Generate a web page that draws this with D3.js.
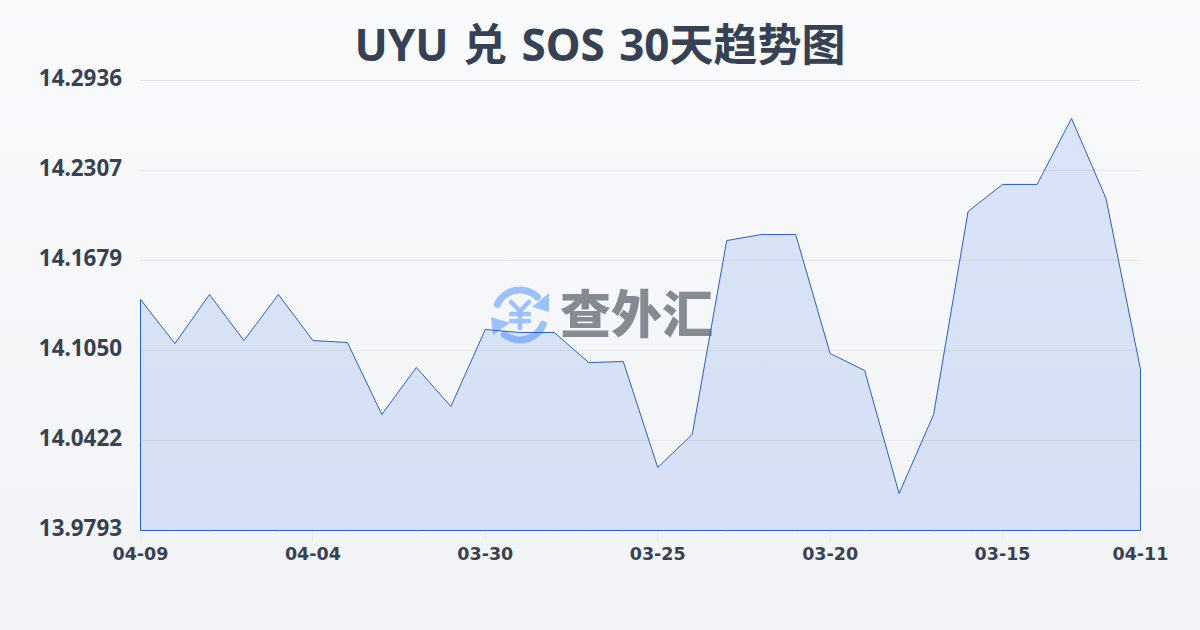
<!DOCTYPE html>
<html><head><meta charset="utf-8">
<script src="https://cdn.jsdelivr.net/npm/d3@7/dist/d3.min.js"></script>
<style>html,body{margin:0;padding:0;background:#f8fafc}svg{display:block}</style>
</head><body><svg id="c" width="1200" height="630"></svg>
<script>
const titleText = "UYU 兑 SOS 30天趋势图";
const values = [14.1406,14.1099,14.1441,14.1120,14.1441,14.1120,14.1106,14.0603,14.0932,14.0659,14.1197,14.1176,14.1176,14.0966,14.0973,14.0233,14.0464,14.1818,14.1860,14.1860,14.1029,14.0911,14.0051,14.0603,14.2021,14.2210,14.2210,14.2671,14.2112,14.0918];
const yTicks = [13.9793,14.0422,14.1050,14.1679,14.2307,14.2936];
const xTickIndex = [0,5,10,15,20,25,29];
const xTickLabels = ["04-09","04-04","03-30","03-25","03-20","03-15","04-11"];
const font = "'Noto Sans','Noto Sans CJK SC',sans-serif";
const xFont = "'DejaVu Sans',sans-serif";

const svg = d3.select("#c");
const defs = svg.append("defs");
const bg = defs.append("linearGradient").attr("id","bg").attr("x1",0).attr("y1",0).attr("x2",0).attr("y2",1);
bg.append("stop").attr("offset",0).attr("stop-color","#f8fafc");
bg.append("stop").attr("offset",1).attr("stop-color","#f1f3f6");
const fg = defs.append("linearGradient").attr("id","fg").attr("x1",0).attr("y1",0).attr("x2",0).attr("y2",1);
fg.append("stop").attr("offset",0).attr("stop-color","#2a60e0").attr("stop-opacity",0.14);
fg.append("stop").attr("offset",1).attr("stop-color","#2a60e0").attr("stop-opacity",0.14);

svg.append("rect").attr("width",1200).attr("height",630).attr("fill","url(#bg)");

const x = d3.scaleLinear().domain([0,values.length-1]).range([140.5,1140.5]);
const y = d3.scaleLinear().domain([yTicks[0],yTicks[yTicks.length-1]]).range([530.5,80.5]);

// grid
svg.append("g").selectAll("line").data(yTicks.slice(1)).join("line")
  .attr("x1",140).attr("x2",1140).attr("y1",d=>Math.floor(y(d))+0.5).attr("y2",d=>Math.floor(y(d))+0.5)
  .attr("stroke","#e5e7eb").attr("stroke-width",1);
// x tick marks
svg.append("g").selectAll("line").data(xTickIndex).join("line")
  .attr("x1",d=>Math.floor(x(d))+0.5).attr("x2",d=>Math.floor(x(d))+0.5).attr("y1",530).attr("y2",541)
  .attr("stroke","#e5e7eb").attr("stroke-width",1);

// watermark
const wm = svg.append("g");
const cx=520, cy=315, r=25;
const arc = d3.arc().innerRadius(r-3.5).outerRadius(r+3.5).cornerRadius(3);
const logo = "#9dc1fb";
wm.append("path").attr("transform",`translate(${cx},${cy})`).attr("fill",logo)
  .attr("d",arc({startAngle:-1.27,endAngle:0.9}));
wm.append("path").attr("transform",`translate(${cx},${cy})`).attr("fill",logo)
  .attr("d",arc({startAngle:1.82,endAngle:3.95}));
wm.append("path").attr("fill",logo).attr("d",d3.line()([[549,293],[549,312],[532,307]])+"Z");
wm.append("path").attr("fill",logo).attr("d",d3.line()([[491,317],[510,323],[493,335]])+"Z");
const yen = [[[511,302],[520,311],[529,302]],[[511,314],[529,314]],[[511,321],[529,321]],[[520,311],[520,328]]];
wm.append("g").selectAll("path").data(yen).join("path").attr("d",d=>d3.line()(d))
  .attr("fill","none").attr("stroke",logo).attr("stroke-width",4.5).attr("stroke-linecap","round");
wm.append("text").attr("x",560).attr("y",333).attr("font-family","'Noto Sans CJK SC'")
  .attr("font-weight",900).attr("font-size",51).attr("fill","#868a92").text("查外汇");

// area
const pts = values.map((v,i)=>[i,v]);
const area = d3.area().x(d=>x(d[0])).y0(y(yTicks[0])).y1(d=>y(d[1]));
svg.append("path").attr("d",area(pts)).attr("fill","url(#fg)").attr("stroke","#2b5fc4").attr("stroke-width",1).attr("stroke-linejoin","miter");

// y labels
svg.append("g").selectAll("text").data(yTicks).join("text")
  .attr("x",122).attr("y",d=>y(d)+5.5).attr("text-anchor","end")
  .attr("font-family",font).attr("font-weight",700).attr("font-size",22.4).attr("fill","#374151")
  .text(d=>d.toFixed(4));
// x labels
svg.append("g").selectAll("text").data(xTickIndex).join("text")
  .attr("x",d=>x(d)).attr("y",560).attr("text-anchor","middle")
  .attr("font-family",xFont).attr("font-weight",700).attr("font-size",17.5).attr("fill","#374151")
  .text((d,i)=>xTickLabels[i]);
// title
svg.append("text").attr("x",600).attr("y",61).attr("text-anchor","middle").attr("word-spacing",3)
  .attr("font-family",font).attr("font-weight",700).attr("font-size",44).attr("fill","#364153").text(titleText);
</script></body></html>
